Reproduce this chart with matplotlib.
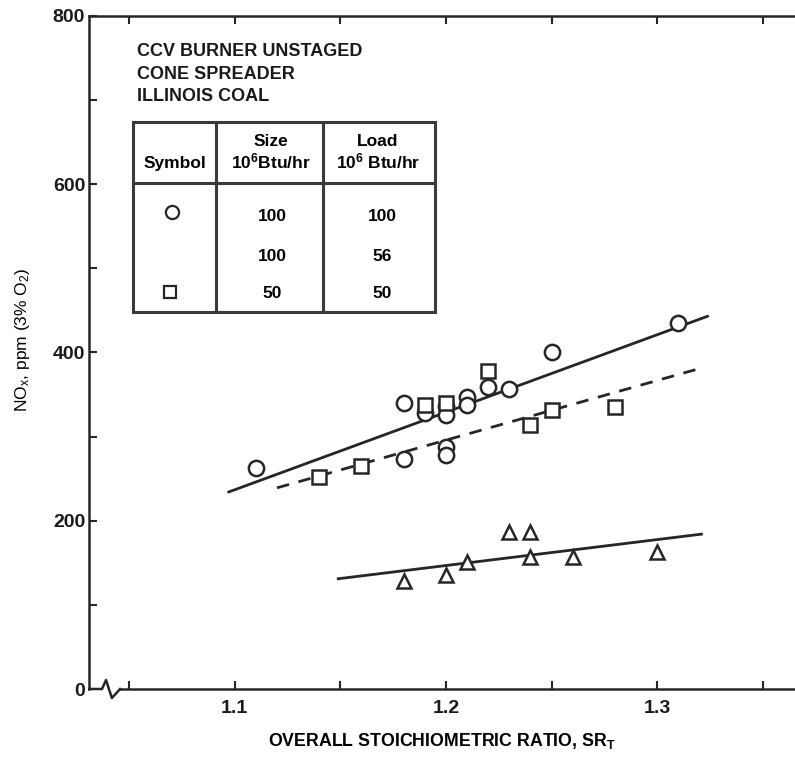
import matplotlib
matplotlib.use("Agg")
import matplotlib.pyplot as plt
from matplotlib.lines import Line2D
from matplotlib.patches import Rectangle

plt.rcParams['font.family'] = ['Liberation Sans', 'DejaVu Sans']
plt.rcParams['mathtext.default'] = 'regular'

# data
circ_x = [1.11, 1.18, 1.18, 1.19, 1.20, 1.20, 1.20, 1.20, 1.21, 1.21, 1.22, 1.23, 1.25, 1.31]
circ_y = [262, 340, 273, 328, 336, 326, 288, 278, 347, 337, 359, 357, 400, 435]

sq_x = [1.14, 1.16, 1.19, 1.20, 1.22, 1.24, 1.25, 1.28]
sq_y = [252, 265, 337, 340, 378, 314, 332, 335]

tri_x = [1.18, 1.20, 1.21, 1.23, 1.24, 1.24, 1.26, 1.30]
tri_y = [128, 136, 151, 187, 187, 157, 157, 163]

# fitted lines (end points)
fit_c_x = [1.097, 1.324]
fit_c_y = [234, 443]
fit_s_x = [1.120, 1.319]
fit_s_y = [239, 380]
fit_t_x = [1.149, 1.321]
fit_t_y = [131, 184]

xticks = [1.05, 1.10, 1.15, 1.20, 1.25, 1.30, 1.35]
xticklabels = ['', '1.1', '', '1.2', '', '1.3', '']
yticks = [0, 100, 200, 300, 400, 500, 600, 700, 800]
yticklabels = ['0', '', '200', '', '400', '', '600', '', '800']

title_lines = ['CCV BURNER UNSTAGED', 'CONE SPREADER', 'ILLINOIS COAL']
tab_head = ['Symbol', 'Size\n10$^6$Btu/hr', 'Load\n10$^6$ Btu/hr']
tab_size = ['100', '100', '50']
tab_load = ['100', '56', '50']

W, H = 795, 757
ink = '#262626'


def px(x, y):
    return x / W, 1 - y / H


fig = plt.figure(figsize=(W / 100, H / 100), dpi=100)
ax = fig.add_axes([89.3 / W, 1 - 689 / H, (W - 89.3) / W, (689 - 15.7) / H])

mk = dict(ls='none', mfc='white', mec=ink, mew=1.8, clip_on=False, zorder=3)
ax.plot(fit_c_x, fit_c_y, color=ink, lw=2.0, solid_capstyle='round', zorder=2)
ax.plot(fit_s_x, fit_s_y, color=ink, lw=2.0, ls=(0, (4.5, 3.5)), zorder=2)
ax.plot(fit_t_x, fit_t_y, color=ink, lw=2.0, zorder=2)
ax.plot(circ_x, circ_y, marker='o', ms=11, **mk)
ax.plot(sq_x, sq_y, marker='s', ms=10.5, **mk)
ax.plot(tri_x, tri_y, marker='^', ms=10.5, **mk)

ax.set_xlim(1.0311, 1.3653)
ax.set_ylim(0, 800)
ax.set_xticks(xticks)
ax.set_xticklabels(xticklabels)
ax.set_yticks(yticks)
ax.set_yticklabels(yticklabels)
ax.tick_params(axis='x', direction='in', length=6, width=1.5, color=ink,
               top=True, labelsize=14, pad=8)
ax.tick_params(axis='y', direction='in', length=6, width=1.5, color=ink,
               labelsize=14, pad=3)
for lab in ax.get_xticklabels() + ax.get_yticklabels():
    lab.set_fontweight('bold')
    lab.set_color('#1a1a1a')

for s in ['left', 'top', 'bottom']:
    ax.spines[s].set_linewidth(1.8)
    ax.spines[s].set_color(ink)
ax.spines['right'].set_visible(False)
ax.spines['bottom'].set_bounds(1.0456, 1.3653)

# axis break at the lower left
ax.plot([0, 0.018, 0.0237, 0.032, 0.0436], [0, 0, 0.0134, -0.0134, 0],
        transform=ax.transAxes, color=ink, lw=1.8, clip_on=False)

ax.set_xlabel('OVERALL STOICHIOMETRIC RATIO, SR$_T$', fontsize=12.8,
              fontweight='bold', labelpad=10)
ax.set_ylabel('NO$_x$, ppm (3% O$_2$)', fontsize=12.5)
ax.yaxis.set_label_coords(-0.081, 0.518)

# header text
for i, t in enumerate(title_lines):
    fig.text(*px(136.7, 51.7 + i * 22.5), t, fontsize=13, fontweight='bold',
             ha='left', va='center', color='#1a1a1a')

# symbol table
tcol = '#3a3a3a'
x0, x1, y0, y1 = 133.3, 435, 121.7, 311.7
fx0, fy1 = px(x0, y1)
fig.add_artist(Rectangle((fx0, fy1), (x1 - x0) / W, (y1 - y0) / H,
                         transform=fig.transFigure, fill=False, lw=2.2, ec=tcol))
for xv in [216, 323.3]:
    fig.add_artist(Line2D([xv / W, xv / W], [1 - y0 / H, 1 - y1 / H],
                          transform=fig.transFigure, lw=2.2, color=tcol))
fig.add_artist(Line2D([x0 / W, x1 / W], [1 - 183.3 / H, 1 - 183.3 / H],
                      transform=fig.transFigure, lw=2.2, color=tcol))

fig.text(*px(175, 163.3), tab_head[0], fontsize=12.5, fontweight='bold', ha='center', va='center')
fig.text(*px(271, 153), tab_head[1], fontsize=12.5, fontweight='bold', ha='center', va='center',
         linespacing=1.15)
fig.text(*px(378, 153), tab_head[2], fontsize=12.5, fontweight='bold', ha='center', va='center',
         linespacing=1.15)
row_y = [216.7, 256.7, 293.3]
for yv, a, b in zip(row_y, tab_size, tab_load):
    fig.text(*px(272, yv), a, fontsize=12.5, fontweight='bold', ha='center', va='center')
    fig.text(*px(382, yv), b, fontsize=12.5, fontweight='bold', ha='center', va='center')

sym = dict(transform=fig.transFigure, ls='none', mfc='white', mec=ink, mew=1.6)
fig.add_artist(Line2D([171.7 / W], [1 - 211.7 / H], marker='o', ms=9.5, **sym))
fig.add_artist(Line2D([170 / W], [1 - 291.7 / H], marker='s', ms=9, **sym))

fig.savefig('out.png', dpi=100)
